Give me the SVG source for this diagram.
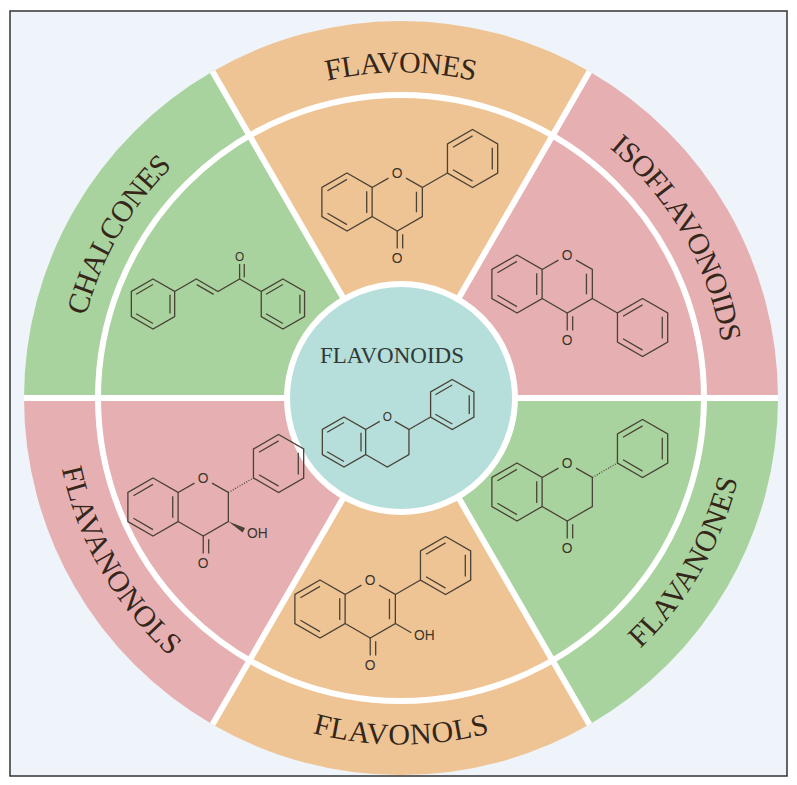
<svg xmlns="http://www.w3.org/2000/svg" xmlns:xlink="http://www.w3.org/1999/xlink" width="797" height="785" viewBox="0 0 797 785">
<style>
.lbl{font-family:"Liberation Serif",serif;font-size:30px;fill:#35261a;}
.m path{fill:none;stroke:#4a4236;stroke-width:1.3;vector-effect:non-scaling-stroke;}
.m text{font-family:"Liberation Sans",sans-serif;font-size:9.5px;fill:#3a342a;text-anchor:middle;dominant-baseline:central;}
.hash{stroke-dasharray:1 1.6;}
.div{stroke:#ffffff;stroke-width:6;fill:none;}
</style>
<defs>
<g id="bz" fill="none" stroke="#4a4236" stroke-width="1.3"><path vector-effect="non-scaling-stroke" d="M0,-20 L17.32,-10 L17.32,10 L0,20 L-17.32,10 L-17.32,-10Z M13.6,-7.5 L13.6,7.5 M0,15.6 L-13.5,7.8 M-13.5,-7.8 L0,-15.6"/></g>
<g id="ringC"><path vector-effect="non-scaling-stroke" fill="none" stroke="#4a4236" stroke-width="1.3" d="M17.32,-10 L28.6,-16.5 M40.7,-16.5 L51.96,-10 L51.96,10 L34.64,20 L17.32,10"/><text x="34.64" y="-20" font-family="Liberation Sans,sans-serif" font-size="9.5" fill="#3a342a" text-anchor="middle" dominant-baseline="central">O</text></g>
<g id="co"><path vector-effect="non-scaling-stroke" fill="none" stroke="#4a4236" stroke-width="1.3" d="M34.64,20 L34.64,32 M38.4,22.2 L38.4,32"/><text x="34.64" y="39" font-family="Liberation Sans,sans-serif" font-size="9.5" fill="#3a342a" text-anchor="middle" dominant-baseline="central">O</text></g>
<path id="tTop" d="M233,107 A336,336 0 0 1 569,107"/>
<path id="tCh" d="M65,398 A336,336 0 0 1 233,107"/>
<path id="tIso" d="M569,107 A336,336 0 0 1 737,398"/>
<path id="tFn" d="M569,689 A336,336 0 0 0 737,398"/>
<path id="tFl" d="M233,689 A336,336 0 0 0 569,689"/>
<path id="tFnl" d="M65,398 A336,336 0 0 0 233,689"/>
</defs>
<rect width="797" height="785" fill="#ffffff"/>
<rect x="10" y="11" width="777" height="765" fill="#eef4f9" stroke="#333" stroke-width="1.5"/>
<g id="sectors">
<path d="M401,398 L212.5,71.5 A377,377 0 0 1 589.5,71.5Z" fill="#efc494"/>
<path d="M401,398 L589.5,71.5 A377,377 0 0 1 778,398Z" fill="#e6b0b2"/>
<path d="M401,398 L778,398 A377,377 0 0 1 589.5,724.5Z" fill="#a9d39e"/>
<path d="M401,398 L589.5,724.5 A377,377 0 0 1 212.5,724.5Z" fill="#efc494"/>
<path d="M401,398 L212.5,724.5 A377,377 0 0 1 24,398Z" fill="#e6b0b2"/>
<path d="M401,398 L24,398 A377,377 0 0 1 212.5,71.5Z" fill="#a9d39e"/>
</g>
<g id="dividers">
<circle cx="401" cy="398" r="303" class="div"/>
<path class="div" d="M401,398 L212.5,71.5 M401,398 L589.5,71.5 M401,398 L778,398 M401,398 L589.5,724.5 M401,398 L212.5,724.5 M401,398 L24,398"/>
</g>
<g id="labels">
<text class="lbl"><textPath href="#tTop" startOffset="50%" text-anchor="middle" dominant-baseline="central">FLAVONES</textPath></text>
<text class="lbl"><textPath href="#tCh" startOffset="50%" text-anchor="middle" dominant-baseline="central">CHALCONES</textPath></text>
<text class="lbl"><textPath href="#tIso" startOffset="50%" text-anchor="middle" dominant-baseline="central">ISOFLAVONOIDS</textPath></text>
<text class="lbl"><textPath href="#tFn" startOffset="50%" text-anchor="middle" dominant-baseline="central">FLAVANONES</textPath></text>
<text class="lbl"><textPath href="#tFl" startOffset="50%" text-anchor="middle" dominant-baseline="central">FLAVONOLS</textPath></text>
<text class="lbl"><textPath href="#tFnl" startOffset="50%" text-anchor="middle" dominant-baseline="central">FLAVANONOLS</textPath></text>
</g>
<g id="center">
<circle cx="401" cy="398" r="114" fill="#b6dedb" stroke="#ffffff" stroke-width="6"/>
<text x="392" y="363" font-family="Liberation Serif,serif" font-size="23" fill="#2f3a36" text-anchor="middle">FLAVONOIDS</text>
<g class="m" transform="translate(344,442) scale(1.25)">
<use href="#bz"/><use href="#ringC"/>
<path d="M51.96,-10 L69.28,-20"/><use href="#bz" x="86.6" y="-30"/>
</g>
</g>
<g id="flavones" class="m" transform="translate(347,202) scale(1.45)">
<use href="#bz"/><use href="#ringC"/><use href="#co"/>
<path d="M47.9,-7 L47.9,7 M51.96,-10 L69.28,-20"/><use href="#bz" x="86.6" y="-30"/>
</g>
<g id="isoflavonoids" class="m" transform="translate(517,284) scale(1.45)">
<use href="#bz"/><use href="#ringC"/><use href="#co"/>
<path d="M47.9,-7 L47.9,7 M51.96,10 L69.28,20"/><use href="#bz" x="86.6" y="30"/>
</g>
<g id="flavanones" class="m" transform="translate(517,492) scale(1.45)">
<use href="#bz"/><use href="#ringC"/><use href="#co"/>
<path class="hash" d="M51.96,-10 L69.28,-20"/><use href="#bz" x="86.6" y="-30"/>
</g>
<g id="flavanonols" class="m" transform="translate(153,507) scale(1.45)">
<use href="#bz"/><use href="#ringC"/><use href="#co"/>
<path class="hash" d="M51.96,-10 L69.28,-20"/><use href="#bz" x="86.6" y="-30"/>
<polygon points="51.96,10 63.5,14.4 61.8,17.6" fill="#4a4236"/>
<text x="72" y="18.5">OH</text>
</g>
<g id="flavonols" class="m" transform="translate(320,609) scale(1.45)">
<use href="#bz"/><use href="#ringC"/><use href="#co"/>
<path d="M47.9,-7 L47.9,7 M51.96,-10 L69.28,-20 M51.96,10 L63,16.4"/><use href="#bz" x="86.6" y="-30"/>
<text x="72" y="18.5">OH</text>
</g>
<g id="chalcones" class="m" transform="translate(153,304) scale(1.25)">
<use href="#bz"/>
<path d="M17.32,-10 L34.64,-20 L51.96,-10 L69.28,-20 L86.6,-10 M35,-15.5 L48.5,-7.7 M69.28,-20 L69.28,-32 M73,-21.5 L73,-32"/>
<text x="69.28" y="-38">O</text>
<use href="#bz" x="103.92" y="0"/>
</g>
</svg>
